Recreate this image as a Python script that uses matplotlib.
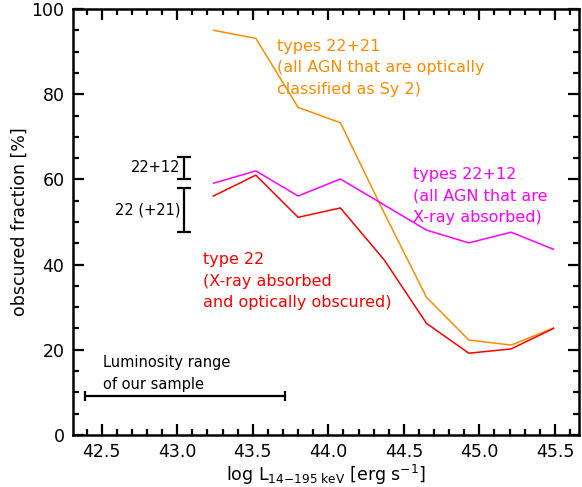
import matplotlib
matplotlib.use("Agg")
import matplotlib.pyplot as plt
from matplotlib.ticker import MultipleLocator

# luminosity bins (log L 14-195 keV)
log_lum = [43.24, 43.52, 43.80, 44.08, 44.37, 44.65, 44.93, 45.21, 45.49]

# obscured fractions [%]
frac_22_21 = [95.0, 93.1, 76.9, 73.3, 52.1, 32.3, 22.3, 21.1, 25.1]
frac_22_12 = [59.1, 62.0, 56.1, 60.1, 54.0, 48.1, 45.1, 47.6, 43.6]
frac_22 = [56.1, 61.0, 51.1, 53.3, 41.1, 26.2, 19.2, 20.2, 25.0]

# typical error bars (center, half length)
err_x = 43.045
err_22_12 = (62.7, 2.6)
err_22_21 = (52.8, 5.2)

# luminosity range of the sample
lum_range = (42.39, 43.71)
lum_range_y = 9.1

orange = "#ff8c00"
magenta = "#ff00ff"
red = "#ff0000"

fig = plt.figure(figsize=(5.82, 4.87), dpi=100)
ax = fig.add_axes([0.125, 0.1068, 0.870, 0.8747])

ax.plot(log_lum, frac_22_21, color=orange, lw=1.1)
ax.plot(log_lum, frac_22_12, color=magenta, lw=1.1)
ax.plot(log_lum, frac_22, color=red, lw=1.1)

# error bars
ax.errorbar([err_x], [err_22_12[0]], yerr=[err_22_12[1]], color="black",
            lw=1.6, capsize=5, capthick=1.6)
ax.errorbar([err_x], [err_22_21[0]], yerr=[err_22_21[1]], color="black",
            lw=1.6, capsize=5, capthick=1.6)
ax.text(err_x - 0.025, err_22_12[0], "22+12", ha="right", va="center", fontsize=10.5)
ax.text(err_x - 0.025, err_22_21[0], "22 (+21)", ha="right", va="center", fontsize=10.5)

# luminosity range
ax.errorbar([(lum_range[0] + lum_range[1]) / 2], [lum_range_y],
            xerr=[(lum_range[1] - lum_range[0]) / 2], color="black",
            lw=1.6, capsize=3.5, capthick=1.6)
ax.text(42.51, 14.4, "Luminosity range\nof our sample", ha="left", va="center",
        fontsize=10.5, linespacing=1.55)

ax.text(43.66, 86.2, "types 22+21\n(all AGN that are optically\nclassified as Sy 2)",
        color=orange, ha="left", va="center", fontsize=11.5, linespacing=1.52)
ax.text(44.56, 56.1, "types 22+12\n(all AGN that are\nX-ray absorbed)",
        color=magenta, ha="left", va="center", fontsize=11.5, linespacing=1.52)
ax.text(43.17, 36.1, "type 22\n(X-ray absorbed\nand optically obscured)",
        color=red, ha="left", va="center", fontsize=11.5, linespacing=1.52)

ax.set_xlim(42.308, 45.66)
ax.set_ylim(0, 100)
ax.xaxis.set_major_locator(MultipleLocator(0.5))
ax.xaxis.set_minor_locator(MultipleLocator(0.1))
ax.yaxis.set_major_locator(MultipleLocator(20))
ax.yaxis.set_minor_locator(MultipleLocator(5))
ax.xaxis.set_major_formatter(matplotlib.ticker.FormatStrFormatter("%.1f"))
ax.tick_params(which="both", direction="in", top=True, right=True, width=1.6,
               labelsize=12.5, pad=6)
ax.tick_params(which="major", length=8)
ax.tick_params(which="minor", length=4)
for s in ax.spines.values():
    s.set_linewidth(1.8)

ax.set_ylabel("obscured fraction [%]", fontsize=12.5, labelpad=2)
ax.set_xlabel(r"log L$_{\rm 14{-}195\ keV}$ [erg s$^{-1}$]", fontsize=12.5, labelpad=1)

fig.savefig("out.png", dpi=100)
